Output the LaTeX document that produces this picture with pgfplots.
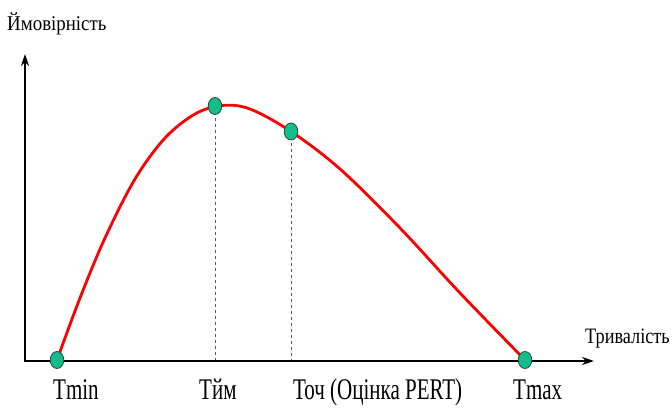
\documentclass[border=0pt]{standalone}
\usepackage{fontspec}
\setmainfont{Liberation Serif}
\usepackage{pgfplots}
\pgfplotsset{compat=1.18}
\usetikzlibrary{arrows.meta}
\definecolor{markgreen}{RGB}{20,190,140}
\definecolor{markedge}{RGB}{40,70,60}
\begin{document}
\begin{tikzpicture}
\begin{axis}[
  x=1pt, y=1pt,
  xmin=25, xmax=593, ymin=50, ymax=356,
  axis lines=none,
  clip=false,
  xtick=\empty, ytick=\empty,
]
% invisible frame giving the picture its size
\path (axis cs:0,0) rectangle (axis cs:672,411);
% axes
\addplot[black, line width=2.6pt, line cap=round, -{Stealth[length=12pt,width=8pt]}] coordinates {(25,50) (594,50)};
\addplot[black, line width=2.6pt, line cap=round, -{Stealth[length=12pt,width=8pt]}] coordinates {(25,50) (25,357)};
% dashed guides
\addplot[black!65, line width=1pt, dash pattern=on 3pt off 3pt] coordinates {(215,305) (215,51)};
\addplot[black!65, line width=1pt, dash pattern=on 3pt off 3pt] coordinates {(291,279.5) (291,51)};
% curve
\addplot[red, line width=2.8pt, smooth, tension=0.55] coordinates {
(57,51) (80,113) (105,173) (135,232) (165,273) (195,297) (222,305.5)
(250,302) (291,279.5) (340,242) (400,183) (460,118) (525,51)};
% points
\addplot[only marks, mark=*, mark size=8.5pt,
  mark options={xscale=0.8, fill=markgreen, draw=markedge, line width=0.8pt}]
  coordinates {(57,51) (215,305) (291,279.5) (525,51)};
% labels
\node[anchor=base west, inner sep=0pt] at (axis cs:7,380) {\scalebox{0.9}[1]{\fontsize{21}{21}\selectfont Ймовірність}};
\node[anchor=base west, inner sep=0pt] at (axis cs:585,67) {\scalebox{0.83}[1]{\fontsize{22}{22}\selectfont Тривалість}};
\node[anchor=base west, inner sep=0pt] at (axis cs:53,11) {\scalebox{0.7}[1]{\fontsize{30}{30}\selectfont Tmin}};
\node[anchor=base west, inner sep=0pt] at (axis cs:199,11) {\scalebox{0.7}[1]{\fontsize{30}{30}\selectfont Тйм}};
\node[anchor=base west, inner sep=0pt] at (axis cs:293,11) {\scalebox{0.7}[1]{\fontsize{30}{30}\selectfont Точ (Оцінка PERT)}};
\node[anchor=base west, inner sep=0pt] at (axis cs:513,11) {\scalebox{0.7}[1]{\fontsize{30}{30}\selectfont Tmax}};
\end{axis}
\end{tikzpicture}
\end{document}
